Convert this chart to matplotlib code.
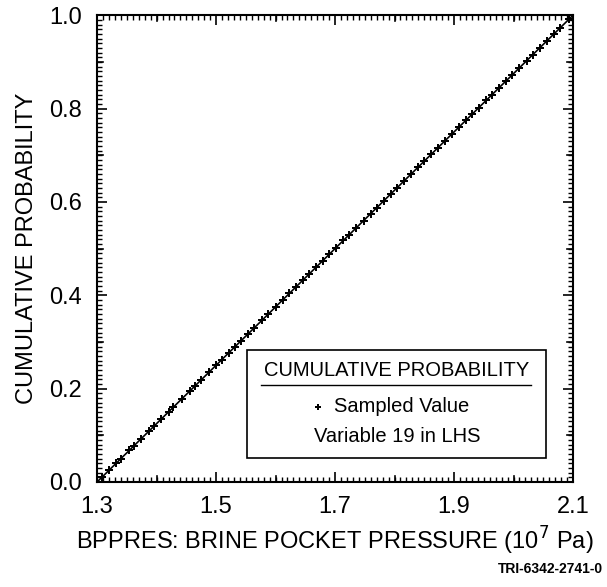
import matplotlib.pyplot as plt
from matplotlib.ticker import MultipleLocator

plt.rcParams['font.family'] = ['Liberation Sans', 'DejaVu Sans']

# sampled values (10^7 Pa) and their cumulative probabilities
sampled_x = [1.308, 1.320, 1.332, 1.340, 1.354, 1.362, 1.374, 1.388, 1.396, 1.408,
             1.420, 1.428, 1.442, 1.456, 1.464, 1.474, 1.488, 1.500, 1.510, 1.521,
             1.532, 1.542, 1.554, 1.564, 1.577, 1.588, 1.600, 1.612, 1.623, 1.634,
             1.646, 1.656, 1.668, 1.679, 1.690, 1.702, 1.714, 1.724, 1.736, 1.748,
             1.760, 1.770, 1.782, 1.794, 1.804, 1.816, 1.828, 1.840, 1.850, 1.862,
             1.873, 1.884, 1.896, 1.908, 1.920, 1.930, 1.942, 1.954, 1.964, 1.976,
             1.988, 1.998, 2.010, 2.022, 2.032, 2.044, 2.056, 2.068, 2.078, 2.094]
sampled_p = [0.010, 0.025, 0.040, 0.050, 0.068, 0.078, 0.092, 0.110, 0.120, 0.135,
             0.150, 0.160, 0.178, 0.195, 0.205, 0.218, 0.235, 0.250, 0.262, 0.276,
             0.290, 0.302, 0.318, 0.330, 0.346, 0.360, 0.375, 0.390, 0.404, 0.418,
             0.432, 0.445, 0.460, 0.474, 0.488, 0.502, 0.518, 0.530, 0.545, 0.560,
             0.575, 0.588, 0.602, 0.618, 0.630, 0.645, 0.660, 0.675, 0.688, 0.702,
             0.716, 0.730, 0.745, 0.760, 0.775, 0.788, 0.802, 0.818, 0.830, 0.845,
             0.860, 0.872, 0.888, 0.902, 0.915, 0.930, 0.945, 0.960, 0.972, 0.992]

# theoretical CDF (uniform on 1.3 - 2.1)
cdf_x = [1.3, 2.1]
cdf_p = [0.0, 1.0]

x_ticks = [1.3, 1.5, 1.7, 1.9, 2.1]
y_ticks = [0.0, 0.2, 0.4, 0.6, 0.8, 1.0]

fig = plt.figure(figsize=(6.07, 5.87), dpi=100)
ax = fig.add_axes([0.160, 0.179, 0.784, 0.795])

ax.plot(cdf_x, cdf_p, color='black', lw=1.2)
ax.plot(sampled_x, sampled_p, linestyle='none', marker='P', markersize=6,
        color='black', markeredgewidth=0)

ax.set_xlim(1.3, 2.1)
ax.set_ylim(0.0, 1.0)
ax.set_xticks(x_ticks)
ax.set_xticklabels([f"{v:.1f}" for v in x_ticks])
ax.set_yticks(y_ticks)
ax.set_yticklabels([f"{v:.1f}" for v in y_ticks])
ax.xaxis.set_minor_locator(MultipleLocator(0.01))
ax.yaxis.set_minor_locator(MultipleLocator(0.01))
ax.tick_params(which='major', direction='in', length=7, width=1.2, labelsize=17,
               top=True, right=True)
ax.tick_params(axis='x', which='major', pad=10)
ax.tick_params(axis='y', which='major', pad=11)
ax.tick_params(which='minor', direction='in', length=3.5, width=1.0,
               top=True, right=True)
# medium ticks at every 0.1
for v in [1.4, 1.6, 1.8, 2.0]:
    ax.plot([v, v], [0, 0.013], color='black', lw=1.2)
    ax.plot([v, v], [1, 0.987], color='black', lw=1.2)
for v in [0.1, 0.3, 0.5, 0.7, 0.9]:
    ax.plot([1.3, 1.3105], [v, v], color='black', lw=1.2)
    ax.plot([2.1, 2.0895], [v, v], color='black', lw=1.2)
for s in ax.spines.values():
    s.set_linewidth(1.5)

ax.set_xlabel("BPPRES: BRINE POCKET PRESSURE (10$^7$ Pa)", fontsize=17, labelpad=5)
ax.set_ylabel("CUMULATIVE PROBABILITY", fontsize=17, labelpad=8)

# legend box
box = plt.Rectangle((1.552, 0.051), 0.502, 0.232, fill=False, lw=1.2, color='black')
ax.add_patch(box)
ax.text(1.804, 0.238, "CUMULATIVE PROBABILITY", ha='center', va='center', fontsize=14.5)
ax.plot([1.576, 2.030], [0.208, 0.208], color='black', lw=1.0)
ax.plot([1.671], [0.161], marker='P', markersize=5, color='black', markeredgewidth=0)
ax.text(1.698, 0.161, "Sampled Value", ha='left', va='center', fontsize=14.5)
ax.text(1.804, 0.097, "Variable 19 in LHS", ha='center', va='center', fontsize=14.5)

fig.text(0.993, 0.030, "TRI-6342-2741-0", ha='right', va='center', fontsize=10,
         fontweight='bold')

fig.savefig("out.png", dpi=100)
